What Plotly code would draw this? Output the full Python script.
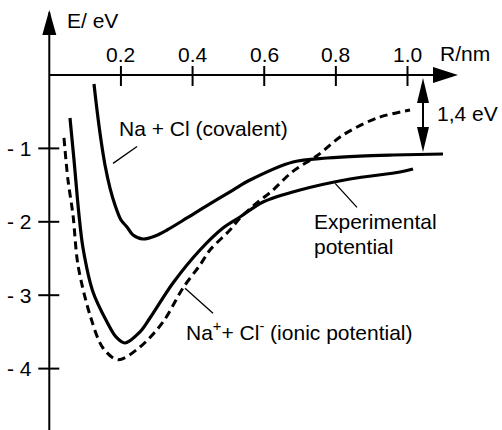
import plotly.graph_objects as go

# Potential energy curves of NaCl (R in nm, E in eV)
cov_r = [0.1248, 0.1332, 0.1443, 0.1555, 0.1695, 0.1834, 0.2002, 0.2169, 0.2337, 0.2616,
         0.2951, 0.3286, 0.3844, 0.4207, 0.5128, 0.5603, 0.6803, 0.7752, 0.8673, 0.9594, 1.0990]
cov_e = [-0.123, -0.477, -0.886, -1.226, -1.540, -1.771, -1.975, -2.071, -2.180, -2.234,
         -2.193, -2.112, -1.948, -1.839, -1.567, -1.431, -1.185, -1.131, -1.104, -1.090, -1.076]

exp_r = [0.0578, 0.0690, 0.0829, 0.0941, 0.1220, 0.1611, 0.1862, 0.2113, 0.2532, 0.2811,
         0.3453, 0.4207, 0.4849, 0.5324, 0.5966, 0.6999, 0.8395, 0.9791, 1.0154]
exp_e = [-0.586, -1.158, -1.907, -2.357, -2.956, -3.365, -3.569, -3.651, -3.501, -3.311,
         -2.834, -2.384, -2.084, -1.935, -1.730, -1.567, -1.417, -1.322, -1.281]

ion_r = [0.0410, 0.0522, 0.0662, 0.0801, 0.1136, 0.1499, 0.1918, 0.2532, 0.3174, 0.3732,
         0.4207, 0.4486, 0.5044, 0.5324, 0.5826, 0.6217, 0.6775, 0.7502, 0.8200, 0.9149, 1.0070]
ion_e = [-0.858, -1.431, -1.907, -2.589, -3.270, -3.719, -3.880, -3.706, -3.365, -2.902,
         -2.589, -2.384, -2.112, -1.948, -1.730, -1.580, -1.322, -1.090, -0.817, -0.586, -0.477]

x_ticks = [0.2, 0.4, 0.6, 0.8, 1.0]
x_tick_labels = ["0.2", "0.4", "0.6", "0.8", "1.0"]
y_ticks = [-1, -2, -3, -4]
y_tick_labels = ["- 1", "- 2", "- 3", "- 4"]

FONT = dict(family="Liberation Sans, Arial, sans-serif", size=21, color="black")
X_RANGE = [-0.1376, 1.2638]
Y_RANGE = [-4.8365, 1.0218]

fig = go.Figure()

curve_style = dict(color="black", width=3.2, shape="spline", smoothing=0.9)
fig.add_trace(go.Scatter(x=cov_r, y=cov_e, mode="lines", line=curve_style))
fig.add_trace(go.Scatter(x=exp_r, y=exp_e, mode="lines", line=curve_style))
fig.add_trace(go.Scatter(x=ion_r, y=ion_e, mode="lines",
                         line=dict(curve_style, dash="8px,5px", width=3)))

# leader lines from labels to curves
leaders = [
    ([0.245, 0.178], [-0.973, -1.204]),
    ([0.798, 0.859], [-1.476, -1.803]),
    ([0.379, 0.457], [-2.905, -3.245]),
]
for lx, ly in leaders:
    fig.add_trace(go.Scatter(x=lx, y=ly, mode="lines", line=dict(color="black", width=1.3)))

shapes = []
# axes
shapes.append(dict(type="line", xref="x", yref="y", x0=0, x1=1.10, y0=0, y1=0,
                   line=dict(color="black", width=2)))
shapes.append(dict(type="line", xref="x", yref="y", x0=0, x1=0, y0=Y_RANGE[0], y1=0.85,
                   line=dict(color="black", width=2)))


def head(x, y, path):
    return dict(type="path", xref="x", yref="y", xsizemode="pixel", ysizemode="pixel",
                xanchor=x, yanchor=y, path=path, fillcolor="black", line=dict(width=0))


shapes.append(head(0, 0.886, "M 0,0 L -7,-25 L 7,-25 Z"))
shapes.append(head(1.141, 0, "M 0,0 L -25,8 L -25,-8 Z"))

# ticks crossing the axes
for t in x_ticks:
    shapes.append(dict(type="line", xref="x", yref="y", ysizemode="pixel", yanchor=0,
                       x0=t, x1=t, y0=-11, y1=9, line=dict(color="black", width=2)))
for t in y_ticks:
    shapes.append(dict(type="line", xref="x", yref="y", xsizemode="pixel", xanchor=0,
                       x0=-11, x1=10, y0=t, y1=t, line=dict(color="black", width=2)))

# 1,4 eV gap marker
gap_x = 1.0433
gap_top, gap_bottom = -0.04, -1.05
shapes.append(dict(type="line", xref="x", yref="y", x0=gap_x, x1=gap_x,
                   y0=gap_top - 0.2, y1=gap_bottom + 0.2, line=dict(color="black", width=2)))
shapes.append(head(gap_x, gap_top, "M 0,0 L -6,-25 L 6,-25 Z"))
shapes.append(head(gap_x, gap_bottom, "M 0,0 L -6,25 L 6,25 Z"))

annotations = []
for t, lab in zip(x_ticks, x_tick_labels):
    annotations.append(dict(x=t, y=0.28, text=lab, xanchor="center", yanchor="middle"))
for t, lab in zip(y_ticks, y_tick_labels):
    annotations.append(dict(x=-0.042, y=t, text=lab, xanchor="right", yanchor="middle"))

annotations += [
    dict(x=0.044, y=0.74, text="E/ eV", xanchor="left", yanchor="middle"),
    dict(x=1.085, y=0.29, text="R/nm", xanchor="left", yanchor="middle"),
    dict(x=1.077, y=-0.52, text="1,4 eV", xanchor="left", yanchor="middle"),
    dict(x=0.189, y=-0.73, text="Na + Cl (covalent)", xanchor="left", yanchor="middle"),
    dict(x=0.734, y=-2.00, text="Experimental", xanchor="left", yanchor="middle"),
    dict(x=0.734, y=-2.33, text="potential", xanchor="left", yanchor="middle"),
    dict(x=0.376, y=-3.49, text="Na<sup>+</sup>+ Cl<sup>-</sup> (ionic potential)",
         xanchor="left", yanchor="middle"),
]
for a in annotations:
    a.update(xref="x", yref="y", showarrow=False, font=FONT)

fig.update_layout(
    width=502, height=430,
    margin=dict(l=0, r=0, t=0, b=0),
    paper_bgcolor="white", plot_bgcolor="white",
    showlegend=False,
    xaxis=dict(range=X_RANGE, visible=False, fixedrange=True),
    yaxis=dict(range=Y_RANGE, visible=False, fixedrange=True),
    shapes=shapes,
    annotations=annotations,
)

fig.write_html("out.html")
